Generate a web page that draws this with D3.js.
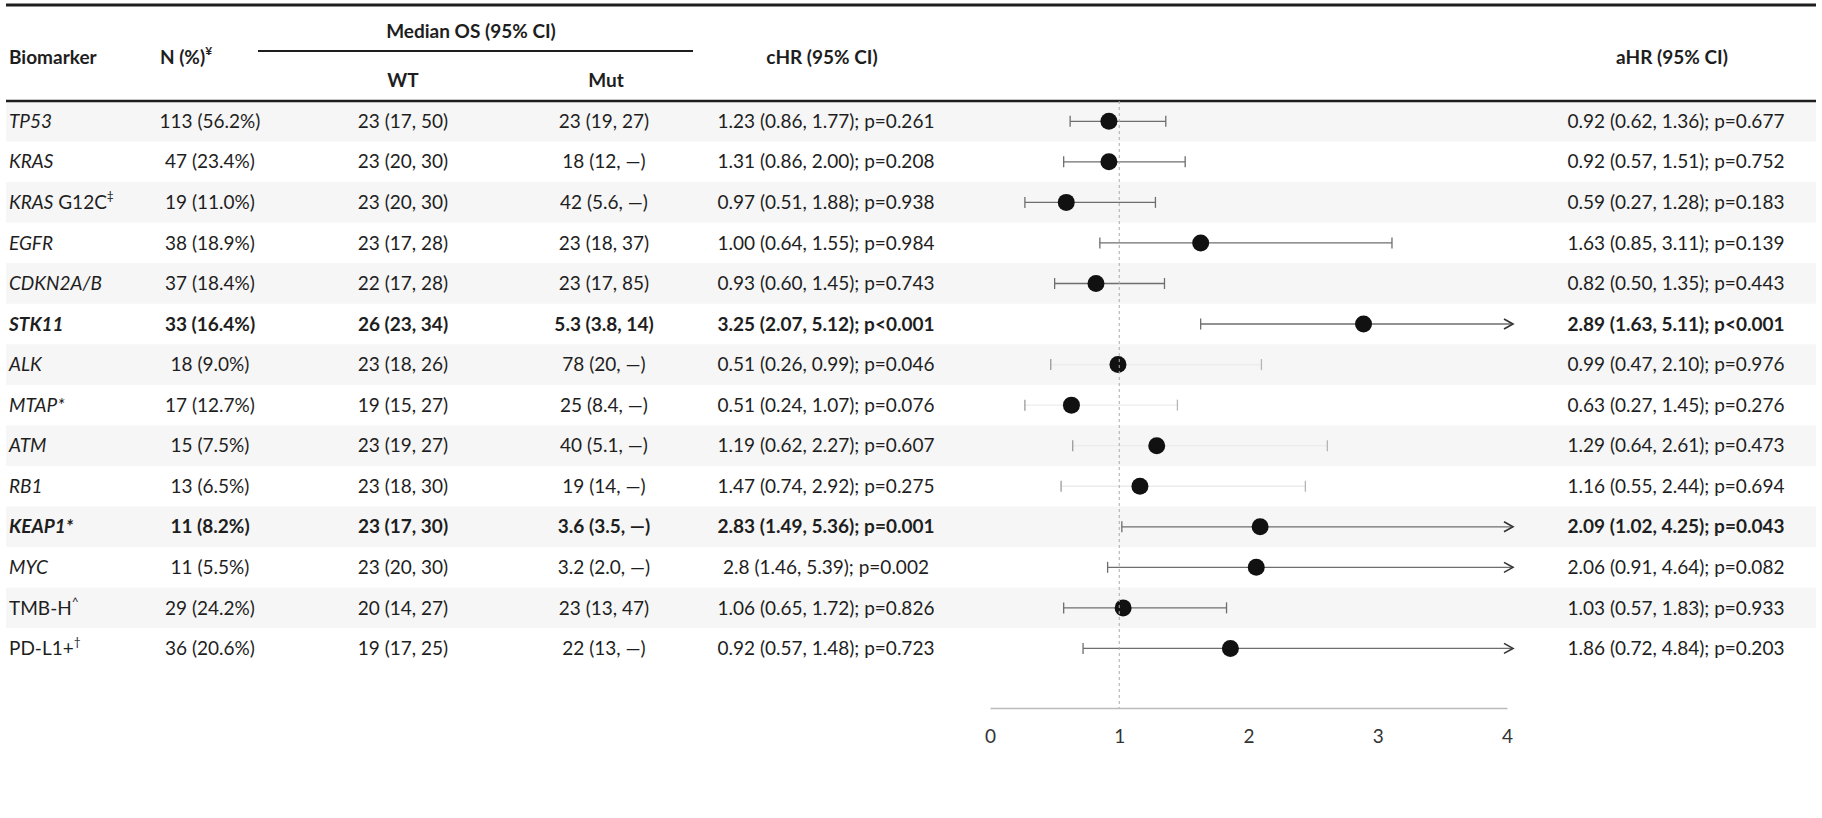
<!DOCTYPE html>
<html>
<head>
<meta charset="utf-8">
<script src="https://cdn.jsdelivr.net/npm/d3@7"></script>
<style>
  body { margin: 0; background: #fff; }
  svg { display: block; font-family: Lato, "Open Sans", sans-serif; }
</style>
</head>
<body>
<div id="chart"></div>
<script>
// row labels: italic gene part, plain suffix, superscript mark
const labelGene = ["TP53", "KRAS", "KRAS", "EGFR", "CDKN2A/B", "STK11", "ALK", "MTAP*", "ATM", "RB1", "KEAP1*", "MYC", "", ""];
const labelRest = ["", "", " G12C", "", "", "", "", "", "", "", "", "", "TMB-H", "PD-L1+"];
const labelSup = ["", "", "‡", "", "", "", "", "", "", "", "", "", "^", "†"];

const nPct = ["113 (56.2%)", "47 (23.4%)", "19 (11.0%)", "38 (18.9%)", "37 (18.4%)", "33 (16.4%)", "18 (9.0%)",
  "17 (12.7%)", "15 (7.5%)", "13 (6.5%)", "11 (8.2%)", "11 (5.5%)", "29 (24.2%)", "36 (20.6%)"];
const osWT = ["23 (17, 50)", "23 (20, 30)", "23 (20, 30)", "23 (17, 28)", "22 (17, 28)", "26 (23, 34)", "23 (18, 26)",
  "19 (15, 27)", "23 (19, 27)", "23 (18, 30)", "23 (17, 30)", "23 (20, 30)", "20 (14, 27)", "19 (17, 25)"];
const osMut = ["23 (19, 27)", "18 (12, —)", "42 (5.6, —)", "23 (18, 37)", "23 (17, 85)", "5.3 (3.8, 14)", "78 (20, —)",
  "25 (8.4, —)", "40 (5.1, —)", "19 (14, —)", "3.6 (3.5, —)", "3.2 (2.0, —)", "23 (13, 47)", "22 (13, —)"];
const cHR = ["1.23 (0.86, 1.77); p=0.261", "1.31 (0.86, 2.00); p=0.208", "0.97 (0.51, 1.88); p=0.938",
  "1.00 (0.64, 1.55); p=0.984", "0.93 (0.60, 1.45); p=0.743", "3.25 (2.07, 5.12); p<0.001",
  "0.51 (0.26, 0.99); p=0.046", "0.51 (0.24, 1.07); p=0.076", "1.19 (0.62, 2.27); p=0.607",
  "1.47 (0.74, 2.92); p=0.275", "2.83 (1.49, 5.36); p=0.001", "2.8 (1.46, 5.39); p=0.002",
  "1.06 (0.65, 1.72); p=0.826", "0.92 (0.57, 1.48); p=0.723"];

// adjusted hazard ratios (plotted)
const aHR = [0.92, 0.92, 0.59, 1.63, 0.82, 2.89, 0.99, 0.63, 1.29, 1.16, 2.09, 2.06, 1.03, 1.86];
const aLow = [0.62, 0.57, 0.27, 0.85, 0.50, 1.63, 0.47, 0.27, 0.64, 0.55, 1.02, 0.91, 0.57, 0.72];
const aHigh = [1.36, 1.51, 1.28, 3.11, 1.35, 5.11, 2.10, 1.45, 2.61, 2.44, 4.25, 4.64, 1.83, 4.84];
const aP = ["0.677", "0.752", "0.183", "0.139", "0.443", "<0.001", "0.976", "0.276", "0.473", "0.694", "0.043", "0.082", "0.933", "0.203"];

const axisTicks = [0, 1, 2, 3, 4];

// whiskers that came out very pale in the original figure
const paleRows = new Set(["ALK", "MTAP*", "ATM", "RB1"]);

const rows = labelGene.map((g, i) => ({
  i, gene: g, rest: labelRest[i], sup: labelSup[i],
  n: nPct[i], wt: osWT[i], mut: osMut[i], chr: cHR[i],
  est: aHR[i], lo: aLow[i], hi: aHigh[i], p: aP[i],
  sig: aP[i].startsWith("<") || +aP[i] < 0.05
}));

const width = 1822, height = 818;
const ink = "#1e1e1e";
const fs = 19;

const svg = d3.select("#chart").append("svg")
  .attr("width", width)
  .attr("height", height);

const y = d3.scaleBand()
  .domain(rows.map(d => d.i))
  .range([101, 101 + rows.length * 40.55]);

const x = d3.scaleLinear()
  .domain([0, 4])
  .range([990, 1507]);

// zebra bands
svg.selectAll(".band")
  .data(rows.filter(d => d.i % 2 === 0))
  .enter().append("rect")
  .attr("x", 6).attr("width", width - 12)
  .attr("y", d => y(d.i)).attr("height", y.bandwidth())
  .attr("fill", "#f6f6f6");

// rules
svg.append("line").attr("x1", 6).attr("x2", width - 6).attr("y1", 5).attr("y2", 5)
  .attr("stroke", ink).attr("stroke-width", 3);
svg.append("line").attr("x1", 6).attr("x2", width - 6).attr("y1", 101).attr("y2", 101)
  .attr("stroke", ink).attr("stroke-width", 2.5);
svg.append("line").attr("x1", 258).attr("x2", 693).attr("y1", 51).attr("y2", 51)
  .attr("stroke", ink).attr("stroke-width", 1.8);

// header
const head = svg.append("g")
  .attr("font-weight", "bold").attr("font-size", fs).attr("fill", ink);
head.append("text").attr("x", 9).attr("y", 57).attr("dy", "0.35em").text("Biomarker");
const nh = head.append("text").attr("x", 186).attr("y", 57).attr("dy", "0.35em").attr("text-anchor", "middle");
nh.append("tspan").text("N (%)");
nh.append("tspan").attr("font-size", 12).attr("dy", "-0.7em").text("¥");
head.append("text").attr("x", 471).attr("y", 31).attr("dy", "0.35em").attr("text-anchor", "middle").text("Median OS (95% CI)");
head.append("text").attr("x", 403).attr("y", 80).attr("dy", "0.35em").attr("text-anchor", "middle").text("WT");
head.append("text").attr("x", 606).attr("y", 80).attr("dy", "0.35em").attr("text-anchor", "middle").text("Mut");
head.append("text").attr("x", 822).attr("y", 57).attr("dy", "0.35em").attr("text-anchor", "middle").text("cHR (95% CI)");
head.append("text").attr("x", 1672).attr("y", 57).attr("dy", "0.35em").attr("text-anchor", "middle").text("aHR (95% CI)");

// table rows
const row = svg.selectAll(".row")
  .data(rows)
  .enter().append("g")
  .attr("class", "row")
  .attr("transform", d => `translate(0,${y(d.i) + y.bandwidth() / 2})`)
  .attr("font-size", fs).attr("fill", ink)
  .attr("font-weight", d => d.sig ? "bold" : "normal");

const lab = row.append("text").attr("x", 9).attr("dy", "0.35em");
lab.append("tspan").attr("font-style", "italic").text(d => d.gene);
lab.append("tspan").text(d => d.rest);
lab.append("tspan").attr("font-size", 12).attr("dy", "-0.75em").text(d => d.sup);

row.append("text").attr("x", 210).attr("dy", "0.35em").attr("text-anchor", "middle").text(d => d.n);
row.append("text").attr("x", 403).attr("dy", "0.35em").attr("text-anchor", "middle").text(d => d.wt);
row.append("text").attr("x", 604).attr("dy", "0.35em").attr("text-anchor", "middle").text(d => d.mut);
row.append("text").attr("x", 826).attr("dy", "0.35em").attr("text-anchor", "middle").text(d => d.chr);
row.append("text").attr("x", 1676).attr("dy", "0.35em").attr("text-anchor", "middle")
  .text(d => `${d.est.toFixed(2)} (${d.lo.toFixed(2)}, ${d.hi.toFixed(2)}); p${d.p.startsWith("<") ? "" : "="}${d.p}`);

// reference line at HR = 1
svg.append("line")
  .attr("x1", x(1)).attr("x2", x(1)).attr("y1", 101).attr("y2", 708)
  .attr("stroke", "#aaa").attr("stroke-width", 1).attr("stroke-dasharray", "3,3");

// forest marks
const xMax = x.domain()[1];
const f = row.append("g").attr("fill", "none");
f.append("line")
  .attr("stroke", d => paleRows.has(d.gene) ? "#ececec" : "#6e6e6e")
  .attr("stroke-width", 1.3)
  .attr("x1", d => x(d.lo))
  .attr("x2", d => d.hi > xMax ? x(xMax) + 4 : x(d.hi));
f.append("line")
  .attr("stroke", d => paleRows.has(d.gene) ? "#9a9a9a" : "#6e6e6e")
  .attr("stroke-width", 1.3)
  .attr("x1", d => x(d.lo)).attr("x2", d => x(d.lo))
  .attr("y1", -5.5).attr("y2", 5.5);
f.filter(d => d.hi <= xMax).append("line")
  .attr("stroke", d => paleRows.has(d.gene) ? "#b5b5b5" : "#6e6e6e")
  .attr("stroke-width", 1.3)
  .attr("x1", d => x(d.hi)).attr("x2", d => x(d.hi))
  .attr("y1", -5.5).attr("y2", 5.5);
f.filter(d => d.hi > xMax).append("path")
  .attr("stroke", "#333").attr("stroke-width", 1.6)
  .attr("d", () => { const t = x(xMax) + 6; return `M${t - 9},-5L${t},0L${t - 9},5`; });

row.append("circle")
  .attr("cx", d => x(d.est))
  .attr("r", 8.5)
  .attr("fill", "#111");

// axis
const axis = svg.append("g")
  .attr("transform", "translate(0,708)")
  .call(d3.axisBottom(x).tickValues(axisTicks).tickFormat(d3.format("d"))
    .tickSize(0).tickSizeOuter(0).tickPadding(22));
axis.select(".domain").attr("stroke", "#bbb").attr("stroke-width", 1.5);
axis.selectAll("text").attr("font-size", fs).attr("fill", "#333").attr("font-family", "Lato, sans-serif");
</script>
</body>
</html>
